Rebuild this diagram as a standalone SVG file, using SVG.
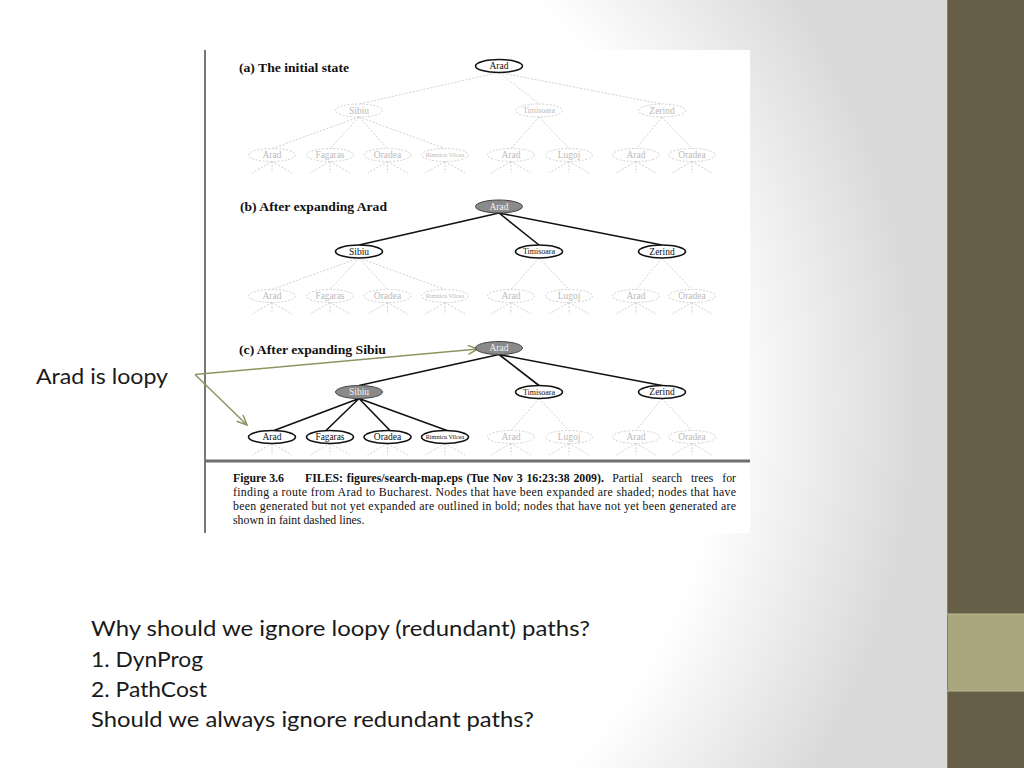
<svg xmlns="http://www.w3.org/2000/svg" width="1024" height="768" viewBox="0 0 1024 768">
<defs>
<radialGradient id="bg" gradientUnits="userSpaceOnUse" cx="200" cy="400" r="720">
<stop offset="0" stop-color="#ffffff"/>
<stop offset="0.72" stop-color="#ffffff"/>
<stop offset="1" stop-color="#d9d9d9"/>
</radialGradient>
<marker id="ah" markerUnits="userSpaceOnUse" markerWidth="14" markerHeight="12" refX="11" refY="5" orient="auto">
<path d="M1,0.5 L11,5 L1,9.5" fill="none" stroke="#8d9462" stroke-width="1.5"/>
</marker>
<style>
.fe{stroke:#c4c4c4;stroke-width:0.8;stroke-dasharray:2 1.6;fill:none}
.be{stroke:#111;stroke-width:1.6;fill:none}
.fn{fill:#fff;stroke:#c4c4c4;stroke-width:0.8;stroke-dasharray:2 1.6}
.bn{fill:#fff;stroke:#111;stroke-width:1.6}
.sn{fill:#8a8a8a;stroke:#444;stroke-width:1}
.lb{font-family:"Liberation Serif",serif;font-size:9.5px;text-anchor:middle}
.ft{fill:#bababa}
.bt{fill:#111}
.st{fill:#f2f2f2}
.hd{font-family:"Liberation Serif",serif;font-size:13.5px;font-weight:bold;fill:#111}
.cp{font-family:"Liberation Serif",serif;font-size:11.8px;fill:#111}
.sl{font-family:Lato,"Open Sans",sans-serif;font-size:22px;fill:#1a1a1a}
.arr{stroke:#8d9462;stroke-width:1.5;fill:none;marker-end:url(#ah)}
</style>
</defs>

<rect x="0" y="0" width="1024" height="768" fill="url(#bg)"/>
<g id="sidebar">
<rect x="947" y="0" width="77" height="768" fill="#675e48"/>
<rect x="947" y="614" width="77" height="77" fill="#a9a57c"/>
<line x1="947.5" y1="0" x2="947.5" y2="768" stroke="#858068" stroke-width="1"/>
<line x1="947" y1="614" x2="1024" y2="614" stroke="#bdb995" stroke-width="1"/>
<line x1="947" y1="691" x2="1024" y2="691" stroke="#bdb995" stroke-width="1"/>
</g>

<g id="figure-panel">
<rect x="205" y="50" width="545" height="483" fill="#ffffff"/>
<line x1="205" y1="50" x2="205" y2="533" stroke="#777" stroke-width="2"/>
<line x1="205" y1="461" x2="750" y2="461" stroke="#6e6e6e" stroke-width="3"/>
</g>

<g id="connectors">
<!-- panel a -->
<path class="fe" d="M499,72.5 L359,104 M499,72.5 L539,104 M499,72.5 L662,104"/>
<path class="fe" d="M359,117 L272,148.5 M359,117 L330,148.5 M359,117 L387.5,148.5 M359,117 L445,148.5 M539,117 L511,148.5 M539,117 L569,148.5 M662,117 L636,148.5 M662,117 L692,148.5"/>
<path class="fe" d="M272,161.5 L252,173 M272,161.5 L272,173 M272,161.5 L292,173 M330,161.5 L310,173 M330,161.5 L330,173 M330,161.5 L350,173 M387.5,161.5 L367.5,173 M387.5,161.5 L387.5,173 M387.5,161.5 L407.5,173 M445,161.5 L425,173 M445,161.5 L445,173 M445,161.5 L465,173 M511,161.5 L491,173 M511,161.5 L511,173 M511,161.5 L531,173 M569,161.5 L549,173 M569,161.5 L569,173 M569,161.5 L589,173 M636,161.5 L616,173 M636,161.5 L636,173 M636,161.5 L656,173 M692,161.5 L672,173 M692,161.5 L692,173 M692,161.5 L712,173"/>
<!-- panel b -->
<path class="be" d="M499,213 L359,245 M499,213 L539,245 M499,213 L662,245"/>
<path class="fe" d="M359,258 L272,289.5 M359,258 L330,289.5 M359,258 L387.5,289.5 M359,258 L445,289.5 M539,258 L511,289.5 M539,258 L569,289.5 M662,258 L636,289.5 M662,258 L692,289.5"/>
<path class="fe" d="M272,302.5 L252,314 M272,302.5 L272,314 M272,302.5 L292,314 M330,302.5 L310,314 M330,302.5 L330,314 M330,302.5 L350,314 M387.5,302.5 L367.5,314 M387.5,302.5 L387.5,314 M387.5,302.5 L407.5,314 M445,302.5 L425,314 M445,302.5 L445,314 M445,302.5 L465,314 M511,302.5 L491,314 M511,302.5 L511,314 M511,302.5 L531,314 M569,302.5 L549,314 M569,302.5 L569,314 M569,302.5 L589,314 M636,302.5 L616,314 M636,302.5 L636,314 M636,302.5 L656,314 M692,302.5 L672,314 M692,302.5 L692,314 M692,302.5 L712,314"/>
<!-- panel c -->
<path class="be" d="M499,354.5 L359,385.5 M499,354.5 L539,385.5 M499,354.5 L662,385.5"/>
<path class="be" d="M359,398.5 L274,430.5 M359,398.5 L326,430.5 M359,398.5 L390,430.5 M359,398.5 L447,430.5"/>
<path class="fe" d="M539,398.5 L511,430.5 M539,398.5 L569,430.5 M662,398.5 L636,430.5 M662,398.5 L692,430.5"/>
<path class="fe" d="M272,443.5 L252,455 M272,443.5 L272,455 M272,443.5 L292,455 M330,443.5 L310,455 M330,443.5 L330,455 M330,443.5 L350,455 M387.5,443.5 L367.5,455 M387.5,443.5 L387.5,455 M387.5,443.5 L407.5,455 M445,443.5 L425,455 M445,443.5 L445,455 M445,443.5 L465,455 M511,443.5 L491,455 M511,443.5 L511,455 M511,443.5 L531,455 M569,443.5 L549,455 M569,443.5 L569,455 M569,443.5 L589,455 M636,443.5 L616,455 M636,443.5 L636,455 M636,443.5 L656,455 M692,443.5 L672,455 M692,443.5 L692,455 M692,443.5 L712,455"/>
<!-- annotation arrows -->
<path class="arr" d="M195,374.5 L478,349"/>
<path class="arr" d="M195,374.5 L247,425"/>
</g>

<g id="headings">
<text class="hd" x="239" y="72" textLength="110" lengthAdjust="spacingAndGlyphs">(a) The initial state</text>
<text class="hd" x="240" y="210.7" textLength="147" lengthAdjust="spacingAndGlyphs">(b) After expanding Arad</text>
<text class="hd" x="239" y="354" textLength="147" lengthAdjust="spacingAndGlyphs">(c) After expanding Sibiu</text>
</g>

<!-- panel a nodes -->
<g id="a-arad"><ellipse class="bn" cx="499" cy="66" rx="23.5" ry="6.5"/><text class="lb bt" x="499" y="69.2">Arad</text></g>
<g id="a-sibiu"><ellipse class="fn" cx="359" cy="110.5" rx="23.5" ry="6.5"/><text class="lb ft" x="359" y="113.7">Sibiu</text></g>
<g id="a-timisoara"><ellipse class="fn" cx="539" cy="110.5" rx="23.5" ry="6.5"/><text class="lb ft" x="539" y="113.2" style="font-size:8px">Timisoara</text></g>
<g id="a-zerind"><ellipse class="fn" cx="662" cy="110.5" rx="23.5" ry="6.5"/><text class="lb ft" x="662" y="113.7">Zerind</text></g>
<g id="a-arad1"><ellipse class="fn" cx="272" cy="155" rx="23.5" ry="6.5"/><text class="lb ft" x="272" y="158.2">Arad</text></g>
<g id="a-fagaras"><ellipse class="fn" cx="330" cy="155" rx="23.5" ry="6.5"/><text class="lb ft" x="330" y="158.2" style="font-size:9.3px">Fagaras</text></g>
<g id="a-oradea1"><ellipse class="fn" cx="387.5" cy="155" rx="23.5" ry="6.5"/><text class="lb ft" x="387.5" y="158.2">Oradea</text></g>
<g id="a-rimnicu"><ellipse class="fn" cx="445" cy="155" rx="23.5" ry="6.5"/><text class="lb ft" x="445" y="157.2" style="font-size:6.2px">Rimnicu Vilcea</text></g>
<g id="a-arad2"><ellipse class="fn" cx="511" cy="155" rx="23.5" ry="6.5"/><text class="lb ft" x="511" y="158.2">Arad</text></g>
<g id="a-lugoj"><ellipse class="fn" cx="569" cy="155" rx="23.5" ry="6.5"/><text class="lb ft" x="569" y="158.2">Lugoj</text></g>
<g id="a-arad3"><ellipse class="fn" cx="636" cy="155" rx="23.5" ry="6.5"/><text class="lb ft" x="636" y="158.2">Arad</text></g>
<g id="a-oradea2"><ellipse class="fn" cx="692" cy="155" rx="23.5" ry="6.5"/><text class="lb ft" x="692" y="158.2">Oradea</text></g>

<!-- panel b nodes -->
<g id="b-arad"><ellipse class="sn" cx="499" cy="206.5" rx="23.5" ry="6.5"/><text class="lb st" x="499" y="209.7">Arad</text></g>
<g id="b-sibiu"><ellipse class="bn" cx="359" cy="251.5" rx="23.5" ry="6.5"/><text class="lb bt" x="359" y="254.7">Sibiu</text></g>
<g id="b-timisoara"><ellipse class="bn" cx="539" cy="251.5" rx="23.5" ry="6.5"/><text class="lb bt" x="539" y="254.2" style="font-size:8px">Timisoara</text></g>
<g id="b-zerind"><ellipse class="bn" cx="662" cy="251.5" rx="23.5" ry="6.5"/><text class="lb bt" x="662" y="254.7">Zerind</text></g>
<g id="b-arad1"><ellipse class="fn" cx="272" cy="296" rx="23.5" ry="6.5"/><text class="lb ft" x="272" y="299.2">Arad</text></g>
<g id="b-fagaras"><ellipse class="fn" cx="330" cy="296" rx="23.5" ry="6.5"/><text class="lb ft" x="330" y="299.2" style="font-size:9.3px">Fagaras</text></g>
<g id="b-oradea1"><ellipse class="fn" cx="387.5" cy="296" rx="23.5" ry="6.5"/><text class="lb ft" x="387.5" y="299.2">Oradea</text></g>
<g id="b-rimnicu"><ellipse class="fn" cx="445" cy="296" rx="23.5" ry="6.5"/><text class="lb ft" x="445" y="298.2" style="font-size:6.2px">Rimnicu Vilcea</text></g>
<g id="b-arad2"><ellipse class="fn" cx="511" cy="296" rx="23.5" ry="6.5"/><text class="lb ft" x="511" y="299.2">Arad</text></g>
<g id="b-lugoj"><ellipse class="fn" cx="569" cy="296" rx="23.5" ry="6.5"/><text class="lb ft" x="569" y="299.2">Lugoj</text></g>
<g id="b-arad3"><ellipse class="fn" cx="636" cy="296" rx="23.5" ry="6.5"/><text class="lb ft" x="636" y="299.2">Arad</text></g>
<g id="b-oradea2"><ellipse class="fn" cx="692" cy="296" rx="23.5" ry="6.5"/><text class="lb ft" x="692" y="299.2">Oradea</text></g>

<!-- panel c nodes -->
<g id="c-arad"><ellipse class="sn" cx="499" cy="348" rx="23.5" ry="6.5"/><text class="lb st" x="499" y="351.2">Arad</text></g>
<g id="c-sibiu"><ellipse class="sn" cx="359" cy="392" rx="23.5" ry="6.5"/><text class="lb st" x="359" y="395.2">Sibiu</text></g>
<g id="c-timisoara"><ellipse class="bn" cx="539" cy="392" rx="23.5" ry="6.5"/><text class="lb bt" x="539" y="394.7" style="font-size:8px">Timisoara</text></g>
<g id="c-zerind"><ellipse class="bn" cx="662" cy="392" rx="23.5" ry="6.5"/><text class="lb bt" x="662" y="395.2">Zerind</text></g>
<g id="c-arad1"><ellipse class="bn" cx="272" cy="437" rx="23.5" ry="6.5"/><text class="lb bt" x="272" y="440.2">Arad</text></g>
<g id="c-fagaras"><ellipse class="bn" cx="330" cy="437" rx="23.5" ry="6.5"/><text class="lb bt" x="330" y="440.2" style="font-size:9.3px">Fagaras</text></g>
<g id="c-oradea1"><ellipse class="bn" cx="387.5" cy="437" rx="23.5" ry="6.5"/><text class="lb bt" x="387.5" y="440.2">Oradea</text></g>
<g id="c-rimnicu"><ellipse class="bn" cx="445" cy="437" rx="23.5" ry="6.5"/><text class="lb bt" x="445" y="439.2" style="font-size:6.2px">Rimnicu Vilcea</text></g>
<g id="c-arad2"><ellipse class="fn" cx="511" cy="437" rx="23.5" ry="6.5"/><text class="lb ft" x="511" y="440.2">Arad</text></g>
<g id="c-lugoj"><ellipse class="fn" cx="569" cy="437" rx="23.5" ry="6.5"/><text class="lb ft" x="569" y="440.2">Lugoj</text></g>
<g id="c-arad3"><ellipse class="fn" cx="636" cy="437" rx="23.5" ry="6.5"/><text class="lb ft" x="636" y="440.2">Arad</text></g>
<g id="c-oradea2"><ellipse class="fn" cx="692" cy="437" rx="23.5" ry="6.5"/><text class="lb ft" x="692" y="440.2">Oradea</text></g>

<g id="caption">
<text class="cp" x="233" y="481.5" font-weight="bold">Figure 3.6</text>
<text class="cp" x="305" y="481.5" font-weight="bold" word-spacing="0.8">FILES: figures/search-map.eps (Tue Nov 3 16:23:38 2009).</text>
<text class="cp" x="736" y="481.5" text-anchor="end" word-spacing="6">Partial search trees for</text>
<text class="cp" x="233" y="495.5" textLength="503" lengthAdjust="spacing">finding a route from Arad to Bucharest.  Nodes that have been expanded are shaded; nodes that have</text>
<text class="cp" x="233" y="509.5" textLength="503" lengthAdjust="spacing">been generated but not yet expanded are outlined in bold; nodes that have not yet been generated are</text>
<text class="cp" x="233" y="523.5">shown in faint dashed lines.</text>
</g>

<g id="slide-text">
<text class="sl" x="36" y="384" textLength="132" lengthAdjust="spacingAndGlyphs">Arad is loopy</text>
<text class="sl" x="91" y="636" textLength="499" lengthAdjust="spacingAndGlyphs">Why should we ignore loopy (redundant) paths?</text>
<text class="sl" x="91" y="666.5" textLength="112" lengthAdjust="spacingAndGlyphs">1. DynProg</text>
<text class="sl" x="91" y="697" textLength="116" lengthAdjust="spacingAndGlyphs">2. PathCost</text>
<text class="sl" x="91" y="727" textLength="443" lengthAdjust="spacingAndGlyphs">Should we always ignore redundant paths?</text>
</g>
</svg>
